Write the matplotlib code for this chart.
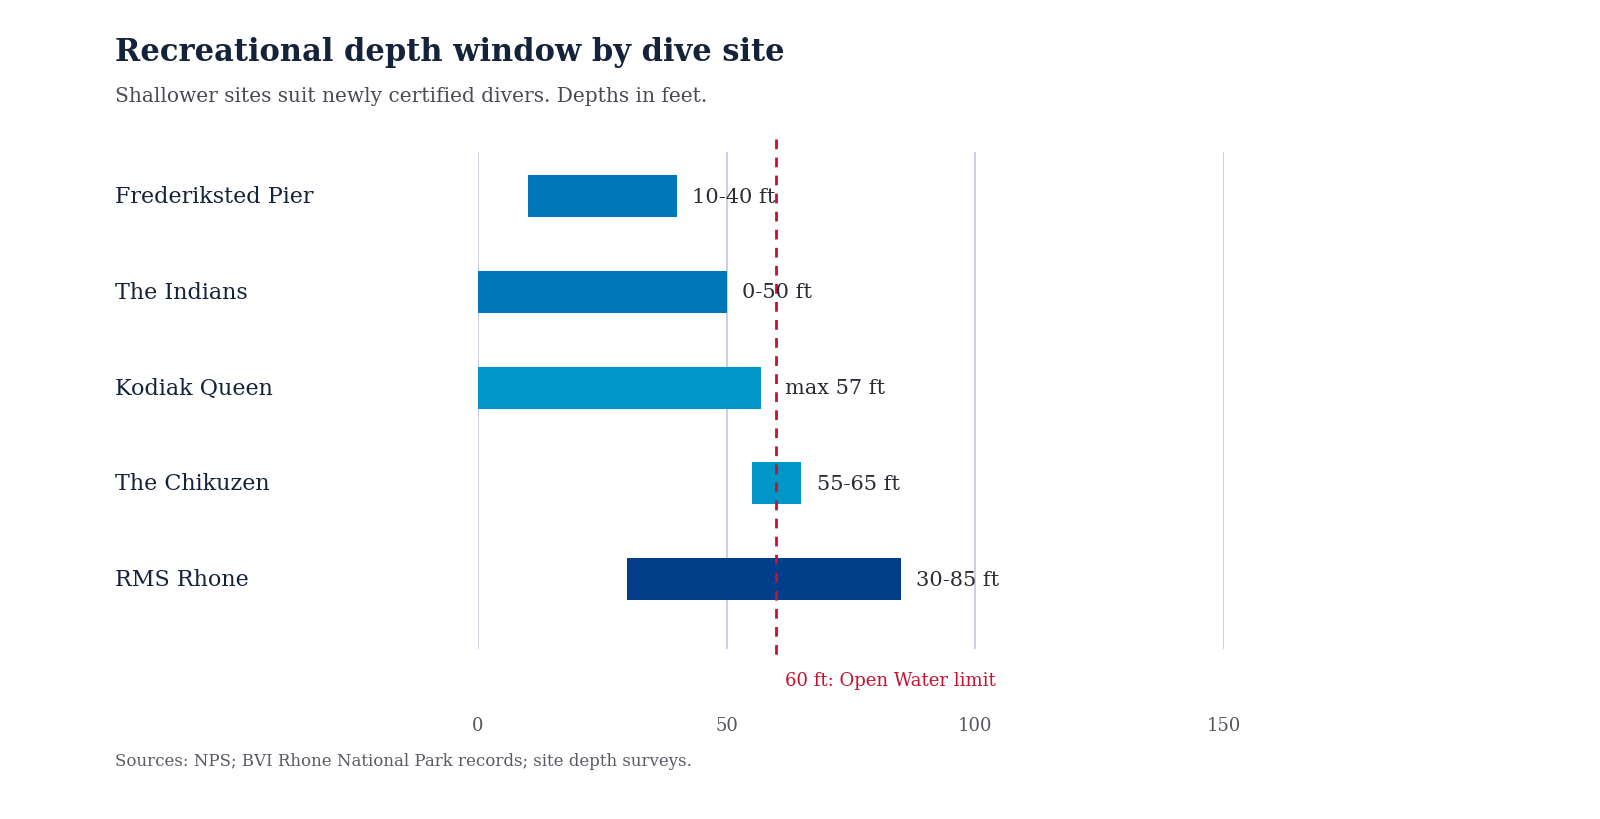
import matplotlib
matplotlib.use("Agg")
import matplotlib.pyplot as plt
import matplotlib.transforms as mtransforms

plt.rcParams['font.family'] = ['DejaVu Serif']

# data
sites = ["Frederiksted Pier", "The Indians", "Kodiak Queen", "The Chikuzen", "RMS Rhone"]
depth_min = [10, 0, 0, 55, 30]
depth_max = [40, 50, 57, 65, 85]
bar_labels = ["10-40 ft", "0-50 ft", "max 57 ft", "55-65 ft", "30-85 ft"]
bar_colors = ["#0077b6", "#0077b6", "#0096c7", "#0096c7", "#023e8a"]
x_ticks = [0, 50, 100, 150]
limit_depth = 60
limit_label = "60 ft: Open Water limit"

fig = plt.figure(figsize=(16, 8.2), dpi=100)
ax = fig.add_axes([478/1600, 1 - 650/820, (1224 - 478)/1600, (650 - 153)/820])

ys = list(range(len(sites)))
widths = [b - a for a, b in zip(depth_min, depth_max)]
ax.barh(ys, widths, left=depth_min, height=0.44, color=bar_colors, zorder=3)

for y, x, lab in zip(ys, depth_max, bar_labels):
    # 라벨이 점선 바로 앞이면 점선 뒤로 밀어줌
    if x < limit_depth and limit_depth - x < 5:
        ax.annotate(lab, (limit_depth, y), xytext=(6, 0), textcoords="offset points",
                    ha="left", va="center", fontsize=15, color="#2b2b35", zorder=5)
    else:
        ax.annotate(lab, (x, y), xytext=(11, 0), textcoords="offset points",
                    ha="left", va="center", fontsize=15, color="#2b2b35", zorder=5)

ax.set_xlim(0, 150)
ax.set_ylim(4.73, -0.46)
ax.set_xticks(x_ticks)
ax.set_yticks([])
ax.grid(axis="x", color="#cdcde0", linewidth=1.4, zorder=0)
ax.tick_params(axis="x", length=0, pad=48, labelsize=13, labelcolor="#555560")
for s in ax.spines.values():
    s.set_visible(False)

# site names on the left
trans = mtransforms.blended_transform_factory(fig.transFigure, ax.transData)
for y, name in zip(ys, sites):
    fig.text(115/1600, y, name, transform=trans, ha="left", va="center",
             fontsize=16, color="#15233a")

# open water limit
ax.plot([limit_depth, limit_depth], [-0.6, 4.85], color="#c8102e", linewidth=2,
        linestyle=(0, (3.5, 3)), clip_on=False, zorder=4)
ax.annotate(limit_label, (limit_depth, 4.73), xytext=(6, -22), textcoords="offset points",
            ha="left", va="center", fontsize=13, color="#c8102e", annotation_clip=False)

fig.text(115/1600, 1 - 53/820, "Recreational depth window by dive site",
         ha="left", va="center", fontsize=22, fontweight="bold", color="#15233a")
fig.text(115/1600, 1 - 96/820, "Shallower sites suit newly certified divers. Depths in feet.",
         ha="left", va="center", fontsize=14.5, color="#4a4a55")
fig.text(115/1600, 1 - 762/820, "Sources: NPS; BVI Rhone National Park records; site depth surveys.",
         ha="left", va="center", fontsize=12, color="#5a5a65")

fig.savefig("out.png", dpi=100, facecolor="white")
